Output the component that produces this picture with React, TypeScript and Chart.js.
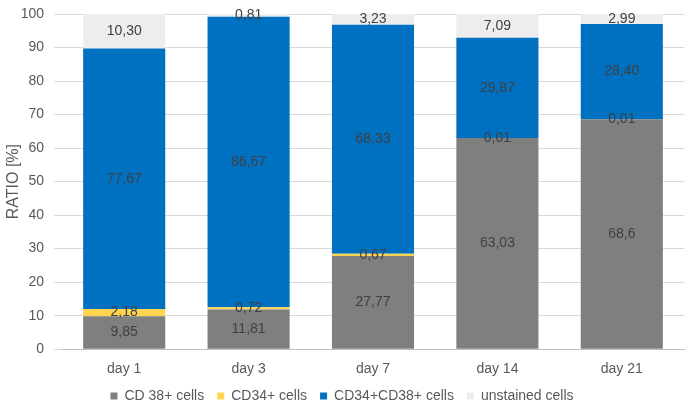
import React, { useEffect, useRef } from "react";
import { Chart, registerables } from "chart.js";

Chart.register(...registerables);

const categories = ["day 1", "day 3", "day 7", "day 14", "day 21"];
const cd38 = [9.85, 11.81, 27.77, 63.03, 68.6];
const cd34 = [2.18, 0.72, 0.67, 0.01, 0.01];
const cd34cd38 = [77.67, 86.67, 68.33, 29.87, 28.4];
const unstained = [10.3, 0.81, 3.23, 7.09, 2.99];
const cd38Labels = ["9,85", "11,81", "27,77", "63,03", "68,6"];
const cd34Labels = ["2,18", "0,72", "0,67", "0,01", "0,01"];
const cd34cd38Labels = ["77,67", "86,67", "68,33", "29,87", "28,40"];
const unstainedLabels = ["10,30", "0,81", "3,23", "7,09", "2,99"];

const FONT = "'Liberation Sans', Arial, sans-serif";

const labelPlugin = {
  id: "segLabels",
  afterLayout(chart: any) {
    const lg = chart.legend;
    if (lg) {
      lg.top -= 6;
      lg.bottom -= 6;
    }
  },
  afterDatasetsDraw(chart: any) {
    const ctx = chart.ctx;
    ctx.save();
    ctx.font = `14px ${FONT}`;
    ctx.fillStyle = "#404040";
    ctx.textAlign = "center";
    ctx.textBaseline = "middle";
    chart.data.datasets.forEach((ds: any, di: number) => {
      const meta = chart.getDatasetMeta(di);
      meta.data.forEach((el: any, i: number) => {
        const y = (el.y + el.base) / 2;
        ctx.fillText(ds.labelsText[i], el.x, y);
      });
    });
    ctx.restore();
  },
};

export default function App() {
  const ref = useRef<HTMLCanvasElement>(null);
  useEffect(() => {
    document.body.style.margin = "0";
    const chart = new Chart(ref.current!, {
      type: "bar",
      data: {
        labels: categories,
        datasets: [
          { label: "CD 38+ cells", data: cd38, backgroundColor: "#7f7f7f", labelsText: cd38Labels } as any,
          { label: "CD34+ cells", data: cd34, backgroundColor: "#ffd44f", labelsText: cd34Labels } as any,
          { label: "CD34+CD38+ cells", data: cd34cd38, backgroundColor: "#0070c0", labelsText: cd34cd38Labels } as any,
          { label: "unstained cells", data: unstained, backgroundColor: "#ededed", labelsText: unstainedLabels } as any,
        ],
      },
      options: {
        animation: false,
        responsive: false,
        maintainAspectRatio: false,
        layout: { padding: { top: 14, right: 5, left: 0, bottom: 0 } },
        datasets: { bar: { categoryPercentage: 1, barPercentage: 0.66 } } as any,
        plugins: {
          legend: {
            position: "bottom",
            maxHeight: 28,
            labels: {
              boxWidth: 7,
              boxHeight: 7,
              color: "#595959",
              font: { size: 14, family: FONT },
              padding: 13,
            },
          },
          tooltip: { enabled: false },
        },
        scales: {
          x: {
            stacked: true,
            grid: { display: false },
            border: { color: "#bfbfbf" },
            ticks: { color: "#595959", font: { size: 14, family: FONT }, padding: 4 },
          },
          y: {
            stacked: true,
            min: 0,
            max: 100,
            ticks: { stepSize: 10, color: "#595959", font: { size: 14, family: FONT }, padding: 10 },
            grid: { color: "#d9d9d9" },
            border: { display: false },
            title: { display: true, text: "RATIO [%]", color: "#595959", font: { size: 16, family: FONT } },
            afterFit: (s: any) => { s.width = 62; s.paddingTop = 0; },
          },
        },
      },
      plugins: [labelPlugin],
    });
    return () => chart.destroy();
  }, []);
  return (
    <div style={{ width: 689, height: 410 }}>
      <canvas ref={ref} width={689} height={410} />
    </div>
  );
}
